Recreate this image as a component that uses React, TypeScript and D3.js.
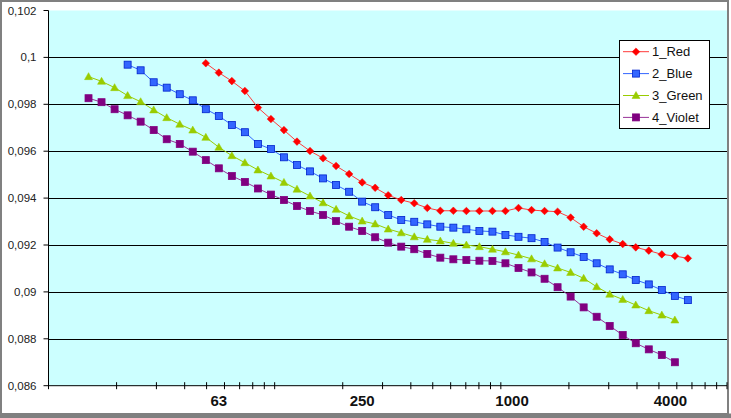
import React from "react";
import * as d3 from "d3";

// shared frequency grid (Hz), every series sits on it
const freqs = [
  15.03, 17.16, 19.6, 22.38, 25.55, 29.18, 33.32, 38.05, 43.44, 49.61, 56.64,
  64.67, 73.84, 84.32, 96.27, 109.9, 125.5, 143.3, 163.7, 186.9, 213.4, 243.7,
  278.2, 317.7, 362.8, 414.2, 473, 540.1, 616.7, 704.1, 804, 918.1, 1048, 1197,
  1367, 1561, 1782, 2035, 2324, 2653, 3030, 3459, 3950, 4510, 5150, 5881, 6714,
];

const redValues = [
  0.09975, 0.09935, 0.09899, 0.09857, 0.09786, 0.09737, 0.0969, 0.09641,
  0.09601, 0.0957, 0.09537, 0.09503, 0.09467, 0.09444, 0.09412, 0.09392,
  0.09378, 0.09358, 0.09346, 0.09346, 0.09345, 0.09345, 0.09345, 0.09345,
  0.09358, 0.09349, 0.09345, 0.09342, 0.09317, 0.09278, 0.0925, 0.09224,
  0.09204, 0.0919, 0.09176, 0.0916, 0.09153, 0.09143,
];
const blueValues = [
  0.09969, 0.09945, 0.09894, 0.09871, 0.09843, 0.09817, 0.09779, 0.0975,
  0.09712, 0.09681, 0.09631, 0.09609, 0.09574, 0.09541, 0.09514, 0.09484,
  0.09456, 0.09427, 0.09385, 0.09361, 0.09328, 0.09307, 0.09299, 0.09288,
  0.09278, 0.09274, 0.09267, 0.0926, 0.09257, 0.09243, 0.09235, 0.09229,
  0.09213, 0.09189, 0.09169, 0.09149, 0.09122, 0.09096, 0.09075, 0.09051,
  0.09032, 0.09008, 0.08983, 0.08965,
];
const greenValues = [
  0.09918, 0.09898, 0.09871, 0.09837, 0.09811, 0.09776, 0.09743, 0.09715,
  0.0969, 0.09659, 0.09617, 0.09581, 0.09551, 0.0952, 0.09494, 0.09467,
  0.09438, 0.09409, 0.0938, 0.09352, 0.09324, 0.09302, 0.0929, 0.09268,
  0.09252, 0.09235, 0.09224, 0.09217, 0.09207, 0.092, 0.09193, 0.09182,
  0.09171, 0.09157, 0.09141, 0.0912, 0.09102, 0.09083, 0.09058, 0.09022,
  0.0899, 0.08968, 0.08944, 0.0892, 0.08901, 0.0888,
];
const violetValues = [
  0.09826, 0.09809, 0.09779, 0.09753, 0.09726, 0.0969, 0.09651, 0.09631,
  0.09598, 0.09562, 0.09527, 0.09494, 0.09469, 0.09441, 0.09415, 0.09392,
  0.09366, 0.09345, 0.09328, 0.09302, 0.09278, 0.0926, 0.09233, 0.0921,
  0.09193, 0.09182, 0.09162, 0.09146, 0.09139, 0.09136, 0.09133, 0.09132,
  0.09122, 0.09102, 0.09083, 0.09056, 0.0902, 0.0898, 0.08934, 0.08894,
  0.08855, 0.08816, 0.08781, 0.08755, 0.08731, 0.087,
];

const seriesNames = ["1_Red", "2_Blue", "3_Green", "4_Violet"];
const seriesStart = [9, 3, 0, 0]; // first index in freqs

const yTicks = [0.086, 0.088, 0.09, 0.092, 0.094, 0.096, 0.098, 0.1, 0.102];
const xLabels = ["63", "250", "1000", "4000"];
const xLabelAt = [56.6, 243.7, 1121, 5623]; // where the labels sit on the axis

const styles = [
  { line: "#ff3b3b", fill: "#ff0000", stroke: "#ff0000", marker: "diamond" },
  { line: "#3366ff", fill: "#3366ff", stroke: "#0022cc", marker: "square" },
  { line: "#99cc00", fill: "#99cc00", stroke: "#99cc00", marker: "triangle" },
  { line: "#993399", fill: "#800080", stroke: "#800080", marker: "square" },
];

const font = "'Liberation Sans', Arial, sans-serif";

const Marker = ({ type, x, y, fill, stroke }) => {
  if (type === "diamond")
    return (
      <path
        d={`M${x},${y - 3.8}L${x + 3.8},${y}L${x},${y + 3.8}L${x - 3.8},${y}Z`}
        fill={fill}
        stroke={stroke}
        strokeWidth={0.5}
      />
    );
  if (type === "triangle")
    return (
      <path
        d={`M${x},${y - 4}L${x + 4},${y + 3}L${x - 4},${y + 3}Z`}
        fill={fill}
        stroke={stroke}
        strokeWidth={0.5}
      />
    );
  return (
    <rect
      x={x - 3.5}
      y={y - 3.5}
      width={7}
      height={7}
      fill={fill}
      stroke={stroke}
      strokeWidth={0.8}
    />
  );
};

export default function App() {
  const width = 731;
  const height = 418;
  const left = 48.5;
  const right = 727;
  const top = 10.5;
  const bottom = 385.7;

  const x = d3.scaleLog().domain([10, 10000]).range([left, right]);
  const y = d3.scaleLinear().domain([0.086, 0.102]).range([bottom, top]);

  const series = [redValues, blueValues, greenValues, violetValues].map(
    (vals, s) =>
      vals.map((v, i) => ({ f: freqs[seriesStart[s] + i], v }))
  );

  const line = d3
    .line<{ f: number; v: number }>()
    .x((d) => x(d.f))
    .y((d) => y(d.v));

  const fmt = (v) => String(+v.toFixed(3)).replace(".", ",");

  return (
    <svg
      width={width}
      height={height}
      style={{ position: "absolute", left: 0, top: 0 }}
    >
      {/* chart area */}
      <rect x={0} y={0} width={width} height={height} fill="#fff" />
      <rect x={0} y={413.5} width={width} height={4.5} fill="#808080" />
      <rect
        x={1}
        y={1}
        width={727}
        height={413}
        fill="none"
        stroke="#808080"
        strokeWidth={2}
      />

      {/* plot area */}
      <rect
        x={left}
        y={top}
        width={right - left}
        height={bottom - top}
        fill="#ccffff"
      />

      {/* gridlines */}
      {yTicks
        .filter((t) => t > 0.0861 && t < 0.1019)
        .map((t) => (
          <line
            key={t}
            x1={left}
            x2={right}
            y1={Math.round(y(t)) + 0.5}
            y2={Math.round(y(t)) + 0.5}
            stroke="#000"
          />
        ))}

      {/* axes */}
      <line x1={left} x2={left} y1={top} y2={bottom} stroke="#000" />
      <line x1={left} x2={right} y1={bottom} y2={bottom} stroke="#000" />

      {yTicks.map((t) => (
        <g key={t} transform={`translate(${left},${y(t)})`}>
          <line x1={-5} x2={0} stroke="#000" />
          <text
            x={-12}
            dy="0.35em"
            textAnchor="end"
            fontFamily={font}
            fontSize={11.5}
            fill="#222"
          >
            {fmt(t)}
          </text>
        </g>
      ))}

      {x.ticks().map((t, i) => (
        <line
          key={i}
          x1={x(t)}
          x2={x(t)}
          y1={bottom - 3.5}
          y2={bottom + 3.5}
          stroke="#000"
        />
      ))}

      {xLabels.map((l, i) => (
        <text
          key={l}
          x={x(xLabelAt[i])}
          y={406}
          textAnchor="middle"
          fontFamily={font}
          fontSize={15}
          fontWeight="bold"
          fill="#111"
        >
          {l}
        </text>
      ))}

      {/* series */}
      {series.map((pts, s) => (
        <g key={seriesNames[s]}>
          <path d={line(pts)} fill="none" stroke={styles[s].line} strokeWidth={1} />
          {pts.map((p, i) => (
            <Marker
              key={i}
              type={styles[s].marker}
              x={x(p.f)}
              y={y(p.v)}
              fill={styles[s].fill}
              stroke={styles[s].stroke}
            />
          ))}
        </g>
      ))}

      {/* legend */}
      <rect x={619.5} y={40.5} width={90} height={88} fill="#fff" stroke="#000" />
      {seriesNames.map((n, s) => {
        const ly = 51.7 + s * 21.9;
        return (
          <g key={n}>
            <line x1={623} x2={649} y1={ly} y2={ly} stroke={styles[s].line} />
            <Marker
              type={styles[s].marker}
              x={636}
              y={ly}
              fill={styles[s].fill}
              stroke={styles[s].stroke}
            />
            <text
              x={652}
              y={ly + 4.5}
              fontFamily={font}
              fontSize={13}
              fill="#111"
            >
              {n}
            </text>
          </g>
        );
      })}
    </svg>
  );
}
